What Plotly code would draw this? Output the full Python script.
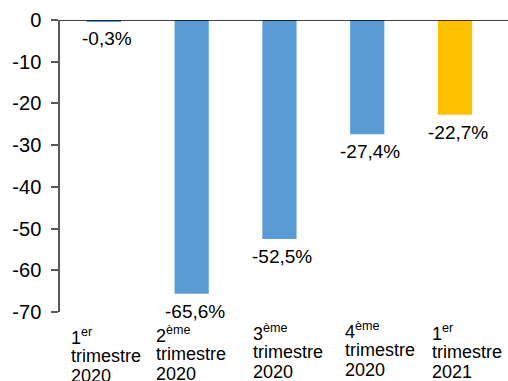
import plotly.graph_objects as go

# Quarterly change (%)
quarters = ["T1 2020", "T2 2020", "T3 2020", "T4 2020", "T1 2021"]
tick_labels = [
    "1<sup>er</sup><br>trimestre<br>2020",
    "2<sup>ème</sup><br>trimestre<br>2020",
    "3<sup>ème</sup><br>trimestre<br>2020",
    "4<sup>ème</sup><br>trimestre<br>2020",
    "1<sup>er</sup><br>trimestre<br>2021",
]
values = [-0.3, -65.6, -52.5, -27.4, -22.7]
value_labels = ["-0,3%", "-65,6%", "-52,5%", "-27,4%", "-22,7%"]
bar_colors = ["#5B9BD5", "#5B9BD5", "#5B9BD5", "#5B9BD5", "#FFC000"]
y_ticks = [0, -10, -20, -30, -40, -50, -60, -70]
y_tick_text = ["0", "-10", "-20", "-30", "-40", "-50", "-60", "-70"]

FONT = "Liberation Sans, Arial, sans-serif"

fig = go.Figure(
    go.Bar(
        x=quarters,
        y=values,
        marker=dict(color=bar_colors, line=dict(width=0)),
        width=0.39,
        hoverinfo="skip",
    )
)

annotations = []
for q, v, t in zip(quarters, values, value_labels):
    annotations.append(dict(
        x=q, y=v, xref="x", yref="y", text=t, showarrow=False,
        xanchor="center", yanchor="top", xshift=3, yshift=-5,
        font=dict(family=FONT, size=19, color="#000000"),
    ))

# category labels drawn under the axis, left-aligned, one annotation per
# line so the line spacing stays tight
label_dx = [-35, -38, -28, -24, -25]
label_dy = [-2, 0, 2, 4, 2]
line_dy = [-9, -30, -50]
for q, t, dx, cdy in zip(quarters, tick_labels, label_dx, label_dy):
    for line, dy in zip(t.split("<br>"), line_dy):
        annotations.append(dict(
            x=q, y=0, xref="x", yref="paper", text=line, showarrow=False,
            xanchor="left", yanchor="top", align="left",
            xshift=dx, yshift=dy + cdy,
            font=dict(family=FONT, size=18, color="#000000"),
        ))

fig.update_layout(
    width=508, height=381,
    margin=dict(l=60, r=4, t=20, b=69),
    paper_bgcolor="white", plot_bgcolor="white",
    showlegend=False,
    annotations=annotations,
    xaxis=dict(
        showticklabels=False, showgrid=False, zeroline=False,
        showline=False, ticks="", fixedrange=True,
    ),
    yaxis=dict(
        range=[-70, 0], tickmode="array", tickvals=y_ticks, ticktext=y_tick_text,
        showgrid=False, zeroline=False,
        showline=True, linecolor="#595959", linewidth=1.5,
        ticks="outside", ticklen=7, tickcolor="#595959", tickwidth=1.5,
        tickfont=dict(family=FONT, size=20, color="#000000"),
        ticklabelstandoff=6,
    ),
    shapes=[dict(
        type="line", xref="paper", yref="y", x0=0, x1=1.02, y0=0, y1=0,
        line=dict(color="#000000", width=1.5),
    )],
)

fig.write_html("out.html")
